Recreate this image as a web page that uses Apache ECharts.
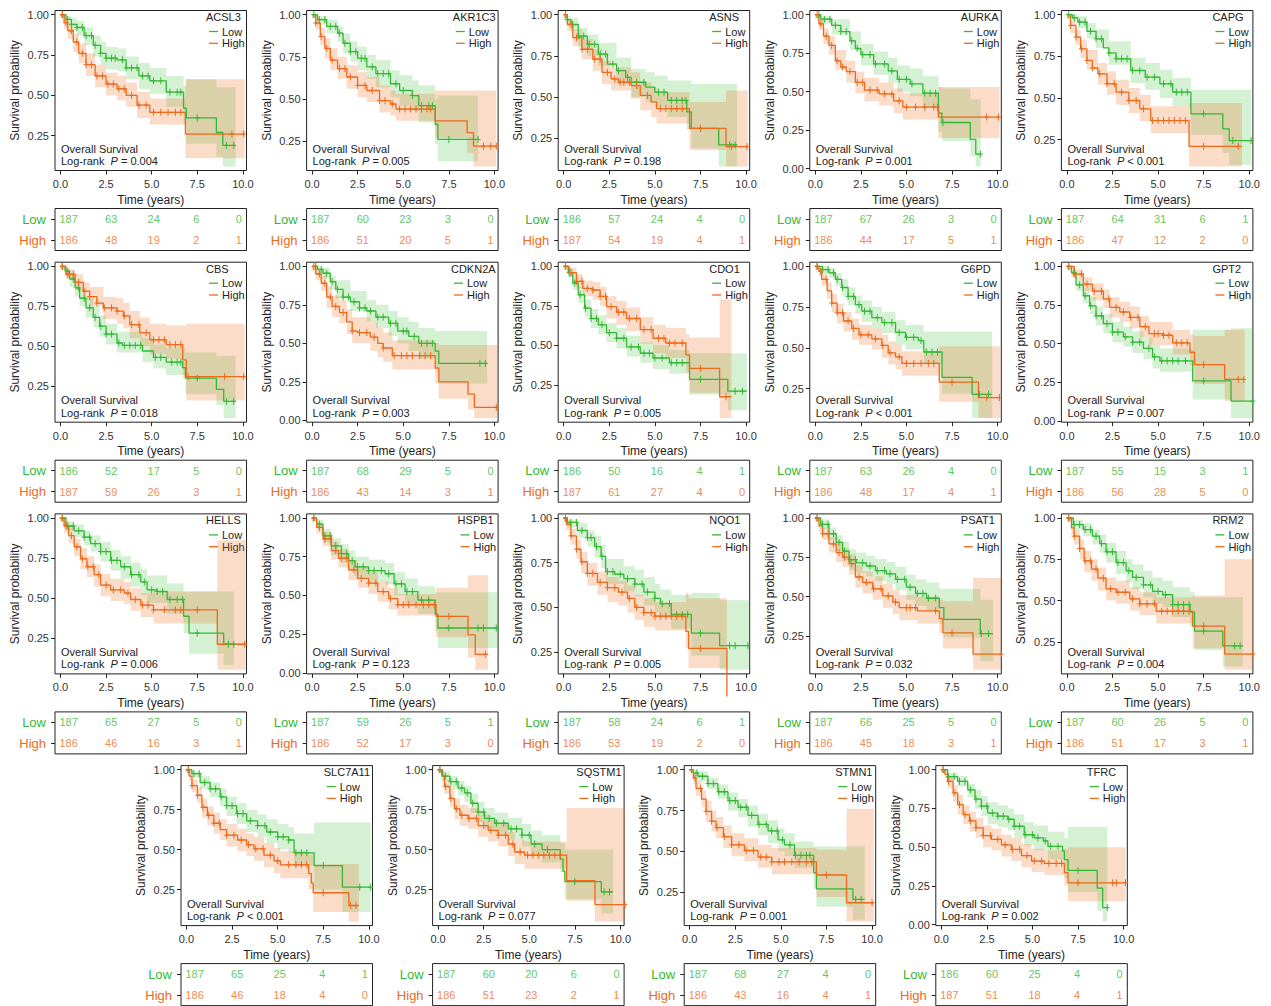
<!DOCTYPE html>
<html>
<head>
<meta charset="utf-8">
<title>Overall survival by gene expression</title>
<script src="https://cdn.jsdelivr.net/npm/echarts@6/dist/echarts.min.js"></script>
<style>
html, body { margin: 0; padding: 0; background: #fff; }
#chart { width: 1271px; height: 1006px; }
</style>
</head>
<body>
<div id="chart"></div>
<script>
// panels, in reading order
const genes = ["ACSL3", "AKR1C3", "ASNS", "AURKA", "CAPG",
               "CBS", "CDKN2A", "CDO1", "G6PD", "GPT2",
               "HELLS", "HSPB1", "NQO1", "PSAT1", "RRM2",
               "SLC7A11", "SQSTM1", "STMN1", "TFRC"];
const pLabels = ["= 0.004", "= 0.005", "= 0.198", "= 0.001", "< 0.001",
                 "= 0.018", "= 0.003", "= 0.005", "< 0.001", "= 0.007",
                 "= 0.006", "= 0.123", "= 0.005", "= 0.032", "= 0.004",
                 "< 0.001", "= 0.077", "= 0.001", "= 0.002"];
const timeTicks = [0, 2.5, 5, 7.5, 10];
const probTicks = [0, 0.25, 0.5, 0.75, 1];

// numbers at risk at timeTicks
const riskLow = [[187,63,24,6,0],[187,60,23,3,0],[186,57,24,4,0],[187,67,26,3,0],[187,64,31,6,1],
                 [186,52,17,5,0],[187,68,29,5,0],[186,50,16,4,1],[187,63,26,4,0],[187,55,15,3,1],
                 [187,65,27,5,0],[187,59,26,5,1],[187,58,24,6,1],[187,66,25,5,0],[187,60,26,5,0],
                 [187,65,25,4,1],[187,60,20,6,0],[187,68,27,4,0],[186,60,25,4,0]];
const riskHigh = [[186,48,19,2,1],[186,51,20,5,1],[187,54,19,4,1],[186,44,17,5,1],[186,47,12,2,0],
                  [187,59,26,3,1],[186,43,14,3,1],[187,61,27,4,0],[186,48,17,4,1],[186,56,28,5,0],
                  [186,46,16,3,1],[186,52,17,3,0],[186,53,19,2,0],[186,45,18,3,1],[186,51,17,3,1],
                  [186,46,18,4,0],[186,51,23,2,1],[186,43,16,4,1],[187,51,18,4,1]];

// Kaplan-Meier steps [time, survival]
const survLow = [
  [[0,1],[0.3,0.97],[0.6,0.94],[0.9,0.92],[1.3,0.87],[1.8,0.81],[2.2,0.76],[2.5,0.73],[3.1,0.72],[3.6,0.67],[4.3,0.62],[4.9,0.59],[5.8,0.52],[6.75,0.42],[6.9,0.36],[8.55,0.27],[8.9,0.19],[9.6,0.19]],
  [[0,1],[0.3,0.97],[0.8,0.93],[1.4,0.89],[1.7,0.83],[2.1,0.78],[2.5,0.74],[3.0,0.69],[3.5,0.65],[4.3,0.59],[4.8,0.55],[5.5,0.52],[5.85,0.46],[6.75,0.35],[6.9,0.26],[9.1,0.26]],
  [[0,1],[0.2,0.97],[0.4,0.94],[0.8,0.87],[1.3,0.82],[1.9,0.76],[2.4,0.7],[2.9,0.66],[3.4,0.62],[3.7,0.59],[4.5,0.56],[5.0,0.53],[5.7,0.48],[6.75,0.41],[7.0,0.31],[8.5,0.21],[9.5,0.21]],
  [[0,1],[0.3,0.97],[0.9,0.93],[1.4,0.89],[1.9,0.83],[2.2,0.78],[2.5,0.74],[3.2,0.68],[4.0,0.635],[4.5,0.58],[5.2,0.55],[5.9,0.49],[6.75,0.36],[6.95,0.3],[8.5,0.19],[8.8,0.095],[9.07,0.095]],
  [[0,1],[0.3,0.98],[0.6,0.955],[1.1,0.9],[1.6,0.855],[2.0,0.8],[2.3,0.77],[2.7,0.735],[3.5,0.665],[4.3,0.625],[5.1,0.585],[5.8,0.535],[6.8,0.405],[8.55,0.315],[8.9,0.245],[10.1,0.245]],
  [[0,1],[0.25,0.97],[0.5,0.92],[0.8,0.865],[1.05,0.8],[1.4,0.74],[1.8,0.68],[2.15,0.625],[2.5,0.575],[3.1,0.52],[3.4,0.505],[4.5,0.47],[5.1,0.43],[5.8,0.4],[6.7,0.365],[6.85,0.3],[8.55,0.23],[8.95,0.155],[9.6,0.155]],
  [[0,1],[0.3,0.98],[0.6,0.955],[1.0,0.9],[1.3,0.85],[1.7,0.8],[2.1,0.77],[2.6,0.73],[3.0,0.71],[3.5,0.67],[4.2,0.63],[4.7,0.58],[5.3,0.545],[5.85,0.5],[6.75,0.45],[6.95,0.37],[9.6,0.37]],
  [[0,1],[0.25,0.96],[0.5,0.895],[0.8,0.82],[1.15,0.735],[1.5,0.67],[1.9,0.63],[2.35,0.58],[2.9,0.545],[3.45,0.49],[4.2,0.45],[4.9,0.42],[5.8,0.39],[6.9,0.285],[9.0,0.21],[10.05,0.21]],
  [[0,1],[0.4,0.98],[0.75,0.96],[1.1,0.92],[1.45,0.87],[1.8,0.815],[2.2,0.765],[2.55,0.725],[3.1,0.685],[3.65,0.655],[4.4,0.595],[4.95,0.565],[5.65,0.545],[5.95,0.475],[6.95,0.32],[8.6,0.215],[9.7,0.215]],
  [[0,1],[0.25,0.96],[0.5,0.88],[0.9,0.81],[1.25,0.745],[1.6,0.68],[2.0,0.63],[2.5,0.575],[3.1,0.545],[3.6,0.51],[4.2,0.47],[4.7,0.415],[5.1,0.39],[6.9,0.26],[9.0,0.13],[10.2,0.13]],
  [[0,1],[0.3,0.95],[0.75,0.92],[1.3,0.88],[1.65,0.84],[2.2,0.79],[2.75,0.735],[3.3,0.695],[3.85,0.645],[4.4,0.6],[4.75,0.55],[5.3,0.54],[5.85,0.49],[6.75,0.385],[7.05,0.28],[8.95,0.21],[9.5,0.21]],
  [[0,1],[0.25,0.96],[0.6,0.885],[1.05,0.82],[1.6,0.77],[2.0,0.725],[2.35,0.685],[3.1,0.66],[4.0,0.64],[4.5,0.575],[5.1,0.525],[5.8,0.47],[6.75,0.38],[6.9,0.29],[10.2,0.29]],
  [[0,1],[0.2,0.975],[0.75,0.93],[1.3,0.89],[1.7,0.84],[2.05,0.785],[2.3,0.7],[2.8,0.685],[3.3,0.66],[3.9,0.63],[4.4,0.585],[5.0,0.55],[5.3,0.52],[5.9,0.46],[7.0,0.355],[8.55,0.285],[10.2,0.285]],
  [[0,1],[0.3,0.96],[0.75,0.9],[1.15,0.845],[1.5,0.79],[1.85,0.735],[2.25,0.715],[2.8,0.695],[3.3,0.665],[3.9,0.645],[4.4,0.61],[5.0,0.56],[5.5,0.52],[6.1,0.49],[6.8,0.43],[7.05,0.355],[9.05,0.265],[9.75,0.265]],
  [[0,1],[0.35,0.96],[0.9,0.93],[1.4,0.89],[1.8,0.845],[2.15,0.795],[2.7,0.73],[3.25,0.68],[3.6,0.64],[4.2,0.595],[4.7,0.555],[5.25,0.535],[5.8,0.475],[6.75,0.43],[7.0,0.315],[8.55,0.225],[9.65,0.225]],
  [[0,1],[0.3,0.975],[0.75,0.92],[1.3,0.88],[1.85,0.83],[2.2,0.775],[2.75,0.725],[3.3,0.68],[3.9,0.65],[4.4,0.61],[5.0,0.58],[5.6,0.56],[5.9,0.48],[7.0,0.4],[8.55,0.265],[10.1,0.265]],
  [[0,1],[0.25,0.96],[0.65,0.925],[1.1,0.885],[1.45,0.855],[1.8,0.79],[2.2,0.735],[2.55,0.695],[3.1,0.665],[3.85,0.63],[4.6,0.59],[5.1,0.535],[5.7,0.5],[6.7,0.44],[6.85,0.365],[6.95,0.3],[8.95,0.235],[9.6,0.235]],
  [[0,1],[0.2,0.98],[0.45,0.96],[1.0,0.915],[1.55,0.865],[2.1,0.81],[2.65,0.77],[3.2,0.72],[3.75,0.665],[4.3,0.625],[4.85,0.57],[5.2,0.54],[5.75,0.475],[6.8,0.37],[6.95,0.27],[8.95,0.205],[9.6,0.205]],
  [[0,1],[0.35,0.955],[0.9,0.925],[1.45,0.87],[1.85,0.81],[2.2,0.765],[2.55,0.72],[3.1,0.7],[3.65,0.68],[4.0,0.635],[4.55,0.58],[5.1,0.56],[5.6,0.54],[5.85,0.505],[6.65,0.475],[6.75,0.42],[6.95,0.35],[8.55,0.235],[8.85,0.11],[9.1,0.11]]
];
const survHigh = [
  [[0,1],[0.2,0.95],[0.4,0.9],[0.7,0.83],[1.0,0.76],[1.4,0.69],[1.9,0.62],[2.5,0.57],[3.1,0.54],[3.6,0.5],[4.2,0.44],[4.9,0.395],[6.85,0.26],[10.1,0.26]],
  [[0,1],[0.2,0.95],[0.45,0.87],[0.7,0.8],[1.0,0.73],[1.4,0.68],[1.9,0.63],[2.5,0.58],[3.0,0.55],[3.7,0.49],[4.3,0.47],[4.6,0.44],[6.75,0.37],[8.5,0.3],[8.85,0.22],[10.1,0.22]],
  [[0,1],[0.2,0.94],[0.5,0.86],[1.0,0.79],[1.6,0.73],[2.1,0.65],[2.6,0.61],[3.0,0.59],[3.7,0.57],[4.2,0.51],[4.8,0.47],[5.1,0.43],[6.9,0.31],[8.9,0.2],[10.1,0.2]],
  [[0,1],[0.2,0.94],[0.45,0.86],[0.75,0.8],[1.1,0.7],[1.4,0.66],[1.7,0.63],[2.2,0.56],[2.7,0.51],[3.5,0.485],[4.3,0.44],[4.8,0.4],[6.75,0.335],[10.1,0.335]],
  [[0,1],[0.2,0.935],[0.5,0.865],[0.75,0.795],[1.1,0.725],[1.4,0.68],[1.7,0.645],[2.2,0.585],[2.7,0.535],[3.4,0.485],[4.0,0.435],[4.6,0.365],[6.7,0.21],[9.6,0.21]],
  [[0,1],[0.3,0.95],[0.8,0.9],[1.25,0.845],[1.6,0.81],[2.0,0.77],[2.35,0.74],[3.1,0.72],[3.45,0.69],[3.8,0.635],[4.35,0.585],[4.9,0.54],[5.8,0.51],[6.7,0.415],[6.9,0.31],[10.1,0.31]],
  [[0,1],[0.2,0.95],[0.5,0.89],[0.8,0.8],[1.1,0.74],[1.5,0.7],[1.9,0.64],[2.2,0.58],[2.5,0.57],[3.2,0.54],[3.6,0.5],[3.9,0.47],[4.4,0.42],[6.75,0.34],[6.95,0.25],[8.55,0.17],[8.9,0.085],[10.2,0.085]],
  [[0,1],[0.3,0.96],[0.7,0.905],[1.05,0.86],[1.6,0.85],[2.0,0.81],[2.35,0.745],[2.9,0.71],[3.45,0.67],[4.2,0.6],[4.9,0.545],[5.6,0.515],[6.7,0.44],[6.9,0.355],[8.55,0.175],[9.2,0.175]],
  [[0,1],[0.2,0.97],[0.35,0.92],[0.65,0.85],[0.9,0.775],[1.2,0.715],[1.55,0.665],[2.0,0.62],[2.4,0.58],[3.1,0.555],[3.65,0.515],[4.0,0.47],[4.4,0.445],[4.75,0.405],[6.8,0.29],[8.95,0.195],[10.15,0.195]],
  [[0,1],[0.4,0.95],[0.9,0.885],[1.4,0.84],[2.0,0.79],[2.35,0.735],[2.9,0.705],[3.45,0.67],[4.0,0.61],[4.5,0.565],[5.25,0.555],[5.8,0.505],[6.75,0.445],[7.0,0.365],[8.65,0.27],[9.75,0.27]],
  [[0,1],[0.2,0.95],[0.45,0.89],[0.75,0.82],[1.1,0.745],[1.45,0.695],[1.85,0.645],[2.2,0.58],[2.75,0.55],[3.5,0.53],[3.85,0.49],[4.4,0.455],[5.1,0.425],[8.6,0.21],[10.15,0.21]],
  [[0,1],[0.25,0.94],[0.6,0.865],[1.05,0.79],[1.45,0.74],[2.0,0.665],[2.5,0.61],[3.1,0.58],[3.6,0.525],[4.2,0.48],[4.7,0.44],[6.8,0.365],[8.55,0.245],[8.95,0.12],[9.65,0.12]],
  [[0,1],[0.15,0.965],[0.4,0.9],[0.7,0.825],[0.95,0.755],[1.3,0.69],[1.85,0.64],[2.4,0.61],[3.0,0.585],[3.5,0.55],[3.9,0.5],[4.4,0.47],[5.0,0.45],[6.7,0.365],[6.85,0.27],[8.95,0]],
  [[0,1],[0.2,0.95],[0.4,0.9],[0.75,0.835],[1.15,0.78],[1.5,0.75],[1.85,0.71],[2.2,0.625],[2.6,0.59],[3.15,0.55],[3.7,0.505],[4.25,0.465],[4.6,0.43],[5.6,0.41],[6.8,0.36],[7.0,0.27],[8.65,0.135],[10.2,0.135]],
  [[0,1],[0.25,0.94],[0.4,0.89],[0.7,0.815],[0.95,0.74],[1.35,0.69],[1.7,0.635],[2.15,0.57],[2.7,0.55],[3.45,0.51],[4.0,0.48],[4.9,0.435],[6.9,0.345],[8.65,0.175],[10.2,0.175]],
  [[0,1],[0.15,0.96],[0.3,0.9],[0.6,0.84],[0.85,0.765],[1.15,0.715],[1.5,0.665],[1.85,0.625],[2.2,0.59],[2.8,0.56],[3.3,0.53],[3.7,0.505],[4.25,0.465],[4.8,0.43],[5.15,0.405],[6.7,0.35],[6.85,0.29],[6.95,0.23],[8.9,0.15],[9.45,0.15]],
  [[0,1],[0.2,0.96],[0.35,0.895],[0.65,0.82],[0.9,0.755],[1.2,0.715],[1.65,0.695],[2.2,0.65],[2.75,0.62],[3.3,0.59],[3.85,0.535],[4.2,0.485],[4.75,0.465],[7.05,0.305],[8.6,0.155],[10.25,0.155]],
  [[0,1],[0.2,0.95],[0.35,0.885],[0.65,0.82],[0.9,0.745],[1.2,0.685],[1.45,0.645],[1.85,0.59],[2.3,0.54],[3.0,0.505],[3.75,0.465],[4.5,0.435],[6.95,0.355],[8.6,0.185],[10.1,0.185]],
  [[0,1],[0.2,0.97],[0.35,0.925],[0.65,0.85],[0.9,0.775],[1.2,0.71],[1.55,0.67],[1.9,0.625],[2.3,0.575],[2.75,0.55],[3.3,0.515],[3.85,0.485],[4.4,0.445],[4.95,0.41],[5.65,0.395],[6.75,0.335],[6.95,0.27],[10.1,0.27]]
];

// confidence bands [time, lower, upper], held until the next time
const bandLow = [
  [[0,0.98,1],[0.3,0.94,0.99],[0.6,0.9,0.98],[0.9,0.87,0.96],[1.3,0.81,0.92],[1.8,0.74,0.87],[2.2,0.69,0.83],[2.5,0.66,0.8],[3.1,0.65,0.79],[3.6,0.6,0.74],[4.3,0.54,0.7],[4.9,0.51,0.67],[5.8,0.43,0.62],[6.75,0.32,0.56],[6.9,0.2,0.6],[8.55,0.12,0.55],[8.9,0.06,0.55],[9.6,0.06,0.55]],
  [[0,0.98,1],[0.3,0.94,0.99],[0.8,0.89,0.97],[1.4,0.84,0.93],[1.7,0.77,0.89],[2.1,0.72,0.84],[2.5,0.67,0.81],[3.0,0.62,0.76],[3.5,0.57,0.73],[4.3,0.51,0.67],[4.8,0.46,0.64],[5.5,0.43,0.61],[5.85,0.36,0.58],[6.75,0.23,0.5],[6.9,0.13,0.52],[9.1,0.13,0.52]],
  [[0,0.98,1],[0.2,0.94,0.99],[0.4,0.9,0.98],[0.8,0.8,0.92],[1.3,0.75,0.88],[1.9,0.69,0.83],[2.9,0.58,0.74],[3.7,0.5,0.67],[4.5,0.47,0.65],[5.0,0.44,0.63],[5.7,0.38,0.6],[6.75,0.3,0.6],[7.0,0.19,0.58],[8.5,0.08,0.58],[9.5,0.08,0.58]],
  [[0,0.98,1],[0.3,0.94,0.99],[0.9,0.87,0.97],[1.9,0.77,0.89],[2.5,0.67,0.81],[3.2,0.61,0.76],[4.0,0.56,0.72],[4.5,0.5,0.67],[5.2,0.47,0.65],[5.9,0.4,0.6],[6.75,0.24,0.53],[6.95,0.18,0.52],[8.5,0.08,0.45],[8.8,0.015,0.45],[9.07,0.015,0.45]],
  [[0,0.98,1],[0.6,0.92,0.99],[1.1,0.86,0.95],[1.6,0.8,0.91],[2.3,0.7,0.84],[3.5,0.59,0.74],[4.3,0.55,0.71],[5.1,0.5,0.67],[5.8,0.45,0.62],[6.8,0.28,0.55],[8.55,0.17,0.55],[8.9,0.1,0.55],[10.1,0.1,0.55]],
  [[0,0.98,1],[0.25,0.94,0.99],[0.5,0.87,0.96],[0.8,0.81,0.91],[1.05,0.75,0.86],[1.4,0.68,0.8],[1.8,0.62,0.75],[2.15,0.56,0.69],[2.5,0.51,0.64],[3.1,0.46,0.59],[4.5,0.4,0.55],[5.1,0.36,0.51],[5.8,0.32,0.49],[6.85,0.2,0.46],[8.55,0.13,0.44],[8.95,0.05,0.44],[9.6,0.05,0.44]],
  [[0,0.98,1],[0.3,0.95,0.99],[0.6,0.92,0.99],[1.0,0.85,0.94],[1.3,0.79,0.91],[2.1,0.71,0.84],[3.0,0.64,0.78],[3.5,0.6,0.75],[4.2,0.55,0.71],[4.7,0.5,0.67],[5.3,0.45,0.64],[5.85,0.4,0.6],[6.75,0.35,0.58],[6.95,0.24,0.58],[9.6,0.24,0.58]],
  [[0,0.98,1],[0.25,0.93,0.99],[0.5,0.85,0.93],[0.8,0.77,0.87],[1.15,0.68,0.79],[1.5,0.61,0.73],[1.9,0.57,0.69],[2.35,0.52,0.64],[2.9,0.48,0.61],[3.45,0.43,0.56],[4.2,0.39,0.52],[4.9,0.35,0.5],[5.8,0.32,0.47],[6.9,0.19,0.45],[9.0,0.09,0.45],[10.05,0.09,0.45]],
  [[0,0.98,1],[0.4,0.96,1],[0.75,0.93,0.99],[1.1,0.88,0.96],[1.45,0.82,0.92],[1.8,0.76,0.87],[2.2,0.71,0.82],[2.55,0.66,0.79],[3.1,0.62,0.75],[3.65,0.59,0.72],[4.4,0.52,0.67],[4.95,0.49,0.64],[5.95,0.4,0.6],[6.95,0.22,0.6],[8.6,0.07,0.6],[9.7,0.07,0.6]],
  [[0,0.98,1],[0.25,0.93,0.99],[0.5,0.84,0.92],[0.9,0.76,0.86],[1.25,0.69,0.8],[1.6,0.62,0.74],[2.0,0.57,0.69],[2.5,0.51,0.64],[3.1,0.48,0.61],[3.6,0.44,0.58],[4.2,0.4,0.54],[4.7,0.34,0.49],[5.1,0.32,0.47],[6.9,0.14,0.59],[9.0,0.02,0.6],[10.2,0.02,0.6]],
  [[0,0.98,1],[0.3,0.92,0.98],[0.75,0.88,0.96],[1.3,0.83,0.92],[1.65,0.79,0.89],[2.2,0.73,0.85],[2.75,0.67,0.8],[3.3,0.62,0.76],[3.85,0.57,0.72],[4.4,0.52,0.68],[4.75,0.47,0.64],[5.85,0.4,0.59],[6.75,0.28,0.54],[7.05,0.15,0.54],[8.95,0.08,0.54],[9.5,0.08,0.54]],
  [[0,0.98,1],[0.25,0.93,0.99],[0.6,0.84,0.93],[1.05,0.76,0.87],[1.6,0.71,0.83],[2.0,0.66,0.79],[2.35,0.62,0.75],[3.1,0.59,0.73],[4.0,0.57,0.71],[4.5,0.5,0.65],[5.1,0.44,0.61],[5.8,0.38,0.56],[6.75,0.27,0.52],[6.9,0.16,0.52],[10.2,0.16,0.52]],
  [[0,0.98,1],[0.2,0.95,0.99],[0.75,0.89,0.97],[1.3,0.84,0.93],[1.7,0.78,0.9],[2.05,0.72,0.85],[2.3,0.63,0.77],[3.3,0.59,0.73],[3.9,0.56,0.71],[4.4,0.51,0.67],[5.0,0.47,0.63],[5.3,0.44,0.6],[5.9,0.38,0.57],[7.0,0.23,0.58],[8.55,0.15,0.54],[10.2,0.15,0.54]],
  [[0,0.98,1],[0.3,0.93,0.99],[0.75,0.86,0.94],[1.15,0.79,0.89],[1.5,0.73,0.85],[1.85,0.67,0.8],[2.25,0.65,0.78],[2.8,0.63,0.76],[3.3,0.6,0.74],[3.9,0.58,0.72],[4.4,0.54,0.69],[5.0,0.48,0.64],[5.5,0.44,0.61],[6.1,0.41,0.59],[6.8,0.33,0.55],[7.05,0.24,0.55],[9.05,0.09,0.48],[9.75,0.09,0.48]],
  [[0,0.98,1],[0.35,0.93,0.99],[0.9,0.89,0.97],[1.4,0.84,0.93],[1.8,0.79,0.9],[2.15,0.73,0.85],[2.7,0.66,0.8],[3.25,0.61,0.75],[3.6,0.57,0.72],[4.2,0.52,0.68],[4.7,0.48,0.64],[5.25,0.46,0.62],[5.8,0.4,0.58],[6.75,0.34,0.55],[7.0,0.2,0.52],[8.55,0.1,0.52],[9.65,0.1,0.52]],
  [[0,0.98,1],[0.3,0.95,0.99],[0.75,0.88,0.96],[1.3,0.83,0.92],[1.85,0.77,0.88],[2.2,0.71,0.83],[2.75,0.66,0.79],[3.3,0.61,0.75],[3.9,0.58,0.72],[4.4,0.54,0.69],[5.0,0.5,0.66],[5.6,0.48,0.64],[5.9,0.4,0.6],[7.0,0.25,0.67],[8.55,0.11,0.67],[10.1,0.11,0.67]],
  [[0,0.98,1],[0.25,0.93,0.99],[0.65,0.88,0.96],[1.1,0.84,0.93],[1.45,0.8,0.9],[1.8,0.73,0.85],[2.2,0.67,0.8],[2.55,0.63,0.76],[3.1,0.6,0.73],[3.85,0.56,0.7],[4.6,0.52,0.66],[5.1,0.46,0.62],[5.7,0.42,0.59],[6.7,0.36,0.54],[6.95,0.19,0.5],[8.95,0.1,0.5],[9.6,0.1,0.5]],
  [[0,0.99,1],[0.2,0.96,1],[0.45,0.93,0.99],[1.0,0.88,0.95],[1.55,0.82,0.91],[2.1,0.75,0.86],[2.65,0.71,0.82],[3.2,0.65,0.78],[3.75,0.6,0.73],[4.3,0.55,0.69],[4.85,0.5,0.64],[5.2,0.47,0.61],[5.75,0.4,0.56],[6.8,0.27,0.53],[6.95,0.16,0.53],[8.95,0.08,0.53],[9.6,0.08,0.53]],
  [[0,0.98,1],[0.35,0.93,0.98],[0.9,0.89,0.96],[1.45,0.82,0.91],[1.85,0.75,0.87],[2.2,0.7,0.83],[2.55,0.65,0.79],[3.1,0.63,0.77],[3.65,0.61,0.75],[4.0,0.56,0.71],[4.55,0.51,0.66],[5.1,0.48,0.64],[5.85,0.42,0.6],[6.75,0.3,0.56],[6.95,0.21,0.63],[8.55,0.09,0.63],[8.85,0.02,0.63],[9.1,0.02,0.63]]
];
const bandHigh = [
  [[0,0.98,1],[0.2,0.91,0.98],[0.4,0.85,0.94],[0.7,0.77,0.88],[1.0,0.7,0.82],[1.4,0.62,0.76],[1.9,0.55,0.69],[2.5,0.5,0.64],[3.1,0.47,0.62],[3.6,0.43,0.58],[4.2,0.36,0.52],[4.9,0.32,0.48],[6.85,0.11,0.6],[10.1,0.11,0.6]],
  [[0,0.98,1],[0.2,0.91,0.98],[0.45,0.82,0.92],[0.7,0.74,0.86],[1.0,0.67,0.8],[1.4,0.62,0.75],[1.9,0.56,0.7],[2.5,0.51,0.66],[3.0,0.48,0.63],[3.7,0.42,0.58],[4.3,0.4,0.55],[4.6,0.37,0.53],[6.75,0.27,0.55],[8.5,0.18,0.55],[8.85,0.1,0.55],[10.1,0.1,0.55]],
  [[0,0.97,1],[0.2,0.9,0.97],[0.5,0.81,0.91],[1.0,0.73,0.85],[1.6,0.66,0.79],[2.1,0.58,0.72],[2.6,0.54,0.68],[3.7,0.49,0.65],[4.2,0.42,0.59],[4.8,0.38,0.56],[5.1,0.34,0.53],[6.9,0.18,0.47],[8.9,0.08,0.54],[10.1,0.08,0.54]],
  [[0,0.97,1],[0.2,0.9,0.97],[0.45,0.81,0.91],[0.75,0.74,0.86],[1.1,0.64,0.77],[1.7,0.56,0.7],[2.2,0.49,0.63],[2.7,0.44,0.59],[3.5,0.41,0.56],[4.3,0.36,0.52],[4.8,0.32,0.49],[6.75,0.2,0.53],[10.1,0.2,0.53]],
  [[0,0.97,1],[0.2,0.89,0.97],[0.5,0.82,0.91],[0.75,0.74,0.85],[1.1,0.67,0.79],[1.7,0.58,0.71],[2.2,0.52,0.66],[2.7,0.46,0.61],[3.4,0.41,0.56],[4.0,0.36,0.52],[4.6,0.29,0.45],[6.7,0.09,0.47],[9.6,0.09,0.47]],
  [[0,0.98,1],[0.3,0.92,0.98],[0.8,0.85,0.95],[1.25,0.79,0.9],[1.6,0.75,0.87],[2.35,0.67,0.81],[3.1,0.64,0.8],[3.45,0.61,0.77],[3.8,0.55,0.72],[4.35,0.5,0.68],[4.9,0.45,0.64],[5.8,0.42,0.63],[6.7,0.3,0.63],[6.9,0.16,0.64],[10.1,0.16,0.64]],
  [[0,0.97,1],[0.2,0.91,0.98],[0.5,0.84,0.94],[0.8,0.73,0.87],[1.1,0.67,0.81],[1.5,0.63,0.78],[1.9,0.56,0.72],[2.2,0.5,0.67],[3.2,0.45,0.64],[3.6,0.41,0.6],[3.9,0.38,0.57],[4.4,0.33,0.52],[6.75,0.24,0.5],[6.95,0.14,0.49],[8.55,0.07,0.49],[8.9,0.015,0.49],[10.2,0.015,0.49]],
  [[0,0.98,1],[0.3,0.93,0.99],[0.7,0.86,0.95],[1.05,0.81,0.91],[1.6,0.79,0.9],[2.0,0.75,0.87],[2.35,0.67,0.81],[2.9,0.63,0.78],[3.45,0.59,0.74],[4.2,0.51,0.68],[4.9,0.45,0.63],[5.6,0.42,0.61],[6.7,0.33,0.57],[6.9,0.2,0.55],[8.55,0.04,0.79],[9.2,0.04,0.79]],
  [[0,0.98,1],[0.2,0.94,0.99],[0.35,0.88,0.96],[0.65,0.8,0.9],[0.9,0.72,0.83],[1.2,0.65,0.77],[1.55,0.6,0.72],[2.0,0.55,0.68],[2.4,0.52,0.64],[3.1,0.49,0.62],[3.65,0.44,0.58],[4.0,0.4,0.54],[4.4,0.37,0.52],[4.75,0.33,0.48],[6.8,0.17,0.51],[8.95,0.07,0.51],[10.15,0.07,0.51]],
  [[0,0.98,1],[0.4,0.92,0.98],[0.9,0.84,0.93],[1.4,0.78,0.89],[2.0,0.73,0.85],[2.35,0.67,0.8],[2.9,0.64,0.77],[3.45,0.6,0.74],[4.0,0.54,0.68],[4.5,0.49,0.64],[5.8,0.43,0.59],[6.75,0.36,0.56],[7.0,0.24,0.55],[8.65,0.13,0.59],[9.75,0.13,0.59]],
  [[0,0.98,1],[0.2,0.91,0.98],[0.45,0.84,0.94],[0.75,0.76,0.87],[1.1,0.68,0.81],[1.45,0.63,0.76],[1.85,0.57,0.71],[2.2,0.51,0.65],[2.75,0.48,0.62],[3.5,0.46,0.6],[3.85,0.42,0.56],[4.4,0.38,0.53],[5.1,0.34,0.54],[8.6,0.05,0.86],[10.15,0.05,0.86]],
  [[0,0.98,1],[0.25,0.9,0.97],[0.6,0.82,0.91],[1.05,0.73,0.85],[1.45,0.68,0.8],[2.0,0.6,0.73],[2.5,0.55,0.68],[3.1,0.51,0.65],[3.6,0.46,0.59],[4.2,0.41,0.55],[4.7,0.37,0.51],[6.8,0.23,0.55],[8.55,0.1,0.63],[8.95,0.02,0.63],[9.65,0.02,0.63]],
  [[0,0.98,1],[0.15,0.93,0.99],[0.4,0.85,0.94],[0.7,0.77,0.88],[0.95,0.69,0.81],[1.3,0.62,0.75],[1.85,0.57,0.7],[2.4,0.53,0.67],[3.0,0.51,0.65],[3.5,0.47,0.62],[3.9,0.43,0.57],[4.4,0.39,0.55],[5.0,0.37,0.53],[6.7,0.27,0.58],[6.85,0.16,0.55],[8.95,0.16,0.55]],
  [[0,0.98,1],[0.2,0.91,0.98],[0.4,0.86,0.94],[0.75,0.78,0.88],[1.15,0.72,0.84],[1.5,0.69,0.81],[1.85,0.64,0.77],[2.2,0.56,0.7],[2.6,0.52,0.66],[3.15,0.48,0.63],[3.7,0.43,0.58],[4.25,0.39,0.54],[4.6,0.35,0.51],[5.6,0.33,0.5],[6.8,0.27,0.48],[7.0,0.17,0.47],[8.65,0.035,0.62],[10.2,0.035,0.62]],
  [[0,0.98,1],[0.25,0.9,0.97],[0.4,0.84,0.93],[0.7,0.75,0.87],[0.95,0.67,0.8],[1.35,0.62,0.75],[1.7,0.56,0.7],[2.15,0.5,0.64],[2.7,0.48,0.62],[3.45,0.44,0.58],[4.0,0.41,0.55],[4.9,0.36,0.52],[6.9,0.21,0.53],[8.65,0.08,0.75],[10.2,0.08,0.75]],
  [[0,0.98,1],[0.15,0.93,0.99],[0.3,0.86,0.94],[0.6,0.79,0.89],[0.85,0.7,0.82],[1.15,0.65,0.77],[1.5,0.6,0.73],[1.85,0.56,0.69],[2.2,0.52,0.66],[2.8,0.49,0.63],[3.3,0.46,0.6],[3.7,0.43,0.58],[4.25,0.39,0.54],[4.8,0.35,0.51],[5.15,0.32,0.49],[6.7,0.25,0.47],[6.95,0.11,0.41],[8.9,0.05,0.41],[9.45,0.05,0.41]],
  [[0,0.98,1],[0.2,0.93,0.99],[0.35,0.85,0.94],[0.65,0.77,0.88],[0.9,0.69,0.82],[1.2,0.65,0.78],[1.65,0.63,0.76],[2.2,0.58,0.72],[2.75,0.55,0.69],[3.3,0.52,0.66],[3.85,0.46,0.61],[4.2,0.41,0.56],[4.75,0.38,0.55],[7.05,0.18,0.76],[8.6,0.05,0.76],[10.25,0.05,0.76]],
  [[0,0.98,1],[0.2,0.91,0.98],[0.35,0.84,0.93],[0.65,0.77,0.87],[0.9,0.68,0.81],[1.2,0.62,0.75],[1.45,0.58,0.71],[1.85,0.52,0.66],[2.3,0.47,0.61],[3.0,0.44,0.58],[3.75,0.4,0.54],[4.5,0.36,0.52],[6.95,0.22,0.51],[8.6,0.07,0.76],[10.1,0.07,0.76]],
  [[0,0.98,1],[0.2,0.94,0.99],[0.35,0.88,0.96],[0.65,0.79,0.9],[0.9,0.71,0.84],[1.2,0.65,0.77],[1.55,0.6,0.73],[1.9,0.56,0.69],[2.3,0.5,0.64],[2.75,0.48,0.62],[3.3,0.44,0.58],[3.85,0.41,0.56],[4.4,0.37,0.52],[4.95,0.34,0.49],[5.65,0.32,0.48],[6.75,0.25,0.49],[6.95,0.15,0.5],[10.1,0.15,0.5]]
];

// censoring times
const censorLow = [
  [0.1,0.4,0.6,0.9,1.2,1.4,1.7,1.9,2.2,2.5,2.8,3.0,3.4,3.6,3.9,4.2,4.5,4.8,5.1,5.5,6.0,6.4,6.6,7.5,9.1,9.5],
  [0.1,0.4,0.7,1.0,1.3,1.5,1.8,2.1,2.4,2.7,2.9,3.3,3.6,3.9,4.2,4.6,5.0,5.5,6.0,6.4,6.6,7.5,9.1],
  [0.2,0.5,0.8,1.1,1.4,1.7,2.0,2.3,2.7,3.0,3.5,4.0,4.4,5.2,5.5,5.9,6.2,6.5,6.7,7.5,9.1,9.4],
  [0.2,0.5,0.8,1.1,1.4,1.7,2.0,2.3,2.6,3.0,3.3,3.8,4.2,4.6,5.0,5.3,6.0,6.3,6.6,7.0,9.05],
  [0.1,0.4,0.7,1.0,1.3,1.6,1.9,2.3,2.7,3.0,3.3,3.6,4.0,4.4,4.8,5.3,5.7,6.0,6.3,6.6,7.5,9.1,10.1],
  [0.1,0.4,0.7,1.0,1.3,1.6,1.9,2.2,2.5,2.8,3.2,3.5,3.8,4.1,4.4,5.2,5.5,6.1,6.4,6.6,7.5,9.1,9.5],
  [0.2,0.5,0.8,1.1,1.4,1.7,2.0,2.3,2.6,2.9,3.2,3.6,3.9,4.3,4.6,5.0,5.2,5.6,6.0,6.3,6.6,9.2,9.5],
  [0.1,0.3,0.6,0.9,1.2,1.5,1.8,2.1,2.5,2.9,3.3,3.7,4.1,4.4,4.7,5.0,5.4,5.9,6.2,6.5,7.5,9.4,9.8],
  [0.1,0.4,0.7,1.0,1.2,1.5,1.8,2.1,2.4,2.7,3.0,3.4,3.8,4.2,4.6,5.0,5.4,5.8,6.1,6.4,6.7,9.0,9.5],
  [0.1,0.4,0.7,1.0,1.3,1.6,1.9,2.2,2.5,2.8,3.2,3.6,4.0,4.5,4.8,5.2,5.5,5.8,6.1,6.5,7.5,10.2],
  [0.1,0.4,0.7,1.0,1.3,1.6,1.9,2.2,2.5,2.8,3.1,3.5,3.9,4.3,4.6,5.0,5.3,5.6,6.0,6.4,6.7,7.5,9.2,9.5],
  [0.1,0.4,0.7,1.0,1.3,1.6,1.9,2.2,2.5,2.8,3.1,3.4,3.8,4.2,4.6,4.9,5.2,5.5,6.0,6.4,7.5,9.1,9.4,10.1],
  [0.1,0.4,0.7,1.0,1.3,1.5,1.8,2.1,2.4,2.7,3.1,3.5,3.9,4.3,4.6,5.0,5.4,5.8,6.2,6.5,6.8,7.5,9.1,9.4,10.1],
  [0.1,0.4,0.7,1.0,1.3,1.6,1.9,2.2,2.6,3.0,3.4,3.8,4.1,4.5,4.9,5.2,5.6,5.9,6.2,6.6,9.1,9.5],
  [0.1,0.4,0.7,1.0,1.3,1.6,1.9,2.2,2.5,2.8,3.1,3.4,3.8,4.2,4.6,5.0,5.4,5.8,6.1,6.4,6.7,7.5,9.2,9.5],
  [0.1,0.4,0.7,1.0,1.3,1.6,1.9,2.2,2.5,2.8,3.1,3.5,3.9,4.3,4.6,5.0,5.3,5.6,6.0,6.3,6.6,7.5,9.5,10.1],
  [0.1,0.4,0.7,1.0,1.3,1.6,1.9,2.2,2.5,2.8,3.2,3.6,4.0,4.3,4.6,5.0,5.3,6.0,7.5,9.1,9.4],
  [0.1,0.4,0.7,1.0,1.3,1.6,1.9,2.2,2.5,2.8,3.1,3.4,3.8,4.2,4.5,4.8,5.1,5.5,5.8,6.1,6.4,6.6,9.1,9.4],
  [0.1,0.4,0.7,1.0,1.3,1.6,1.9,2.2,2.5,2.8,3.1,3.4,3.7,4.0,4.3,4.6,5.0,5.3,5.7,6.0,6.4,7.5,9.1]
];
const censorHigh = [
  [0.1,0.3,0.6,0.9,1.2,1.4,1.7,2.0,2.3,2.6,2.9,3.2,3.5,3.9,4.3,4.7,5.1,5.5,5.9,6.3,6.6,9.4,10.05],
  [0.2,0.5,0.8,1.1,1.5,1.8,2.1,2.5,2.9,3.3,3.7,4.0,4.4,4.8,5.1,5.4,5.7,6.0,6.3,6.5,9.4,9.8,10.1],
  [0.1,0.4,0.7,1.0,1.3,1.7,2.0,2.4,2.8,3.1,3.3,3.6,4.0,4.6,5.3,5.6,5.9,6.2,6.5,7.5,9.2,10.05],
  [0.1,0.3,0.6,0.9,1.2,1.5,1.9,2.3,2.6,3.0,3.4,3.8,4.2,4.6,5.0,5.5,6.0,6.5,6.7,9.4,10.05],
  [0.2,0.5,0.8,1.1,1.4,1.8,2.2,2.6,3.0,3.4,3.8,4.2,4.7,5.0,5.3,5.6,5.9,6.2,6.5,7.5,9.4],
  [0.1,0.4,0.7,1.0,1.3,1.6,2.0,2.4,2.8,3.1,3.5,3.9,4.3,4.7,5.1,5.4,5.7,6.0,6.3,6.6,7.0,9.0,10.05],
  [0.1,0.4,0.7,1.0,1.3,1.7,2.2,2.6,3.0,3.4,3.9,4.5,4.9,5.2,5.5,5.9,6.2,6.5,10.1],
  [0.1,0.4,0.7,1.0,1.3,1.6,2.0,2.3,2.6,3.0,3.3,3.6,4.0,4.4,4.8,5.2,5.5,5.8,6.1,6.5,7.5,8.9],
  [0.1,0.3,0.6,0.9,1.2,1.5,1.8,2.1,2.5,2.9,3.3,3.7,4.1,4.6,5.0,5.4,5.8,6.2,6.5,7.5,9.4,10.1],
  [0.1,0.4,0.8,1.1,1.5,1.9,2.3,2.7,3.1,3.5,3.9,4.3,4.8,5.0,5.3,5.6,6.0,6.3,6.6,7.5,9.4,9.7],
  [0.1,0.3,0.6,0.9,1.2,1.5,1.8,2.1,2.5,2.9,3.3,3.7,4.1,4.5,4.8,5.1,5.7,6.3,6.6,7.5,10.1],
  [0.1,0.4,0.7,1.0,1.3,1.6,1.9,2.3,2.7,3.1,3.5,3.9,4.3,4.7,5.0,5.3,5.7,6.1,6.4,6.7,7.5,9.5],
  [0.1,0.4,0.7,1.0,1.3,1.6,2.0,2.4,2.8,3.2,3.6,4.0,4.4,4.8,5.0,5.3,5.6,5.9,6.2,6.5,7.5],
  [0.1,0.4,0.7,1.0,1.3,1.6,2.0,2.4,2.8,3.2,3.6,4.0,4.4,5.0,5.2,5.5,6.6,7.5,10.2],
  [0.1,0.4,0.7,1.0,1.3,1.6,2.0,2.4,2.8,3.2,3.6,4.0,4.4,4.8,5.2,5.5,5.8,6.1,6.4,6.7,7.5,10.2],
  [0.1,0.3,0.6,0.9,1.2,1.5,1.8,2.2,2.6,3.0,3.4,3.8,4.2,4.6,5.0,5.6,6.0,6.3,6.6,7.5,9.0,9.3],
  [0.1,0.4,0.7,1.0,1.3,1.7,2.1,2.5,2.9,3.3,3.7,4.1,4.5,4.9,5.2,5.5,5.8,6.1,6.4,6.7,10.25],
  [0.1,0.3,0.6,0.9,1.2,1.5,1.9,2.3,2.7,3.1,3.5,3.9,4.2,4.5,4.9,5.2,5.6,6.0,6.4,6.7,7.5,10.0],
  [0.1,0.4,0.7,1.0,1.3,1.6,1.9,2.3,2.7,3.1,3.5,3.9,4.3,4.7,5.1,5.5,5.9,6.3,6.6,7.5,9.4,9.6,10.1]
];

const GREEN = "#35B835";
const ORANGE = "#EC6A1C";
const GREEN_FILL = "rgba(60,190,60,0.22)";
const ORANGE_FILL = "rgba(240,110,30,0.24)";
const INK = "#222";
const FONT = "'Liberation Sans', Arial, Helvetica, sans-serif";

function panelBox(i) {
  const row = Math.floor(i / 5), col = i % 5;
  const left = (row < 3 ? 55 : 181) + 251.6 * col;
  const top = 10.5 + 251.7 * row;
  return { left: left, top: top, width: 191.5, height: 160, tableTop: top + 198, tableH: 42 };
}

function survAt(curve, t) {
  let s = curve[0][1];
  for (const p of curve) {
    if (p[0] <= t) s = p[1]; else break;
  }
  return s;
}

const measureCtx = document.createElement("canvas").getContext("2d");
function textWidth(s, size) {
  measureCtx.font = size + "px " + FONT;
  return measureCtx.measureText(s).width;
}

function bandSeries(band, fill, idx) {
  return {
    type: "custom", xAxisIndex: idx, yAxisIndex: idx, silent: true, z: 1,
    data: [[band[0][0], band[0][2]]],
    renderItem: function (params, api) {
      const upper = [], lower = [];
      for (let k = 0; k < band.length; k++) {
        const t0 = band[k][0];
        const t1 = k + 1 < band.length ? band[k + 1][0] : band[k][0];
        upper.push(api.coord([t0, band[k][2]]), api.coord([t1, band[k][2]]));
        lower.push(api.coord([t0, band[k][1]]), api.coord([t1, band[k][1]]));
      }
      return {
        type: "polygon",
        shape: { points: upper.concat(lower.reverse()) },
        style: { fill: fill, stroke: null }
      };
    }
  };
}

// "+" censor ticks sitting on the curve
function censorSeries(curve, times, color, idx) {
  return {
    type: "custom", xAxisIndex: idx, yAxisIndex: idx, silent: true, z: 4,
    data: times.map(function (t) { return [t, survAt(curve, t)]; }),
    renderItem: function (params, api) {
      const p = api.coord([api.value(0), api.value(1)]);
      return {
        type: "group",
        children: [
          { type: "line", shape: { x1: p[0], y1: p[1] - 3.5, x2: p[0], y2: p[1] + 3.5 }, style: { stroke: color, lineWidth: 1 } },
          { type: "line", shape: { x1: p[0] - 2.5, y1: p[1], x2: p[0] + 2.5, y2: p[1] }, style: { stroke: color, lineWidth: 1 } }
        ]
      };
    }
  };
}

const grids = [], xAxes = [], yAxes = [], series = [], graphic = [];

genes.forEach(function (gene, i) {
  const b = panelBox(i);
  const pi = 2 * i, ti = 2 * i + 1;
  const lo = Math.min.apply(null, bandLow[i].concat(bandHigh[i]).map(function (d) { return d[1]; }));
  const yMin = lo - 0.027 * (1 - lo);
  const yMax = 1 + 0.027 * (1 - lo);
  const yTicks = probTicks.filter(function (v) { return v >= yMin && v <= yMax; });

  grids.push({ left: b.left, top: b.top, width: b.width, height: b.height, show: true,
               borderColor: INK, borderWidth: 1, backgroundColor: "transparent", outerBoundsMode: "none" });
  grids.push({ left: b.left, top: b.tableTop, width: b.width, height: b.tableH, show: true,
               borderColor: INK, borderWidth: 1, backgroundColor: "transparent", outerBoundsMode: "none" });

  xAxes.push({
    type: "value", gridIndex: pi, min: -0.3, max: 10.2, position: "bottom",
    name: "Time (years)", nameLocation: "middle", nameGap: 23,
    nameTextStyle: { fontSize: 12, color: INK, fontFamily: FONT },
    axisLine: { show: false, onZero: false }, splitLine: { show: false },
    axisTick: { show: true, length: 4, customValues: timeTicks, lineStyle: { color: INK } },
    axisLabel: { customValues: timeTicks, formatter: function (v) { return v.toFixed(1); },
                 fontSize: 11, color: "#333", fontFamily: FONT, margin: 8 }
  });
  yAxes.push({
    type: "value", gridIndex: pi, min: yMin, max: yMax, position: "left",
    name: "Survival probability", nameLocation: "middle", nameGap: 34,
    nameTextStyle: { fontSize: 12, color: INK, fontFamily: FONT },
    axisLine: { show: false, onZero: false }, splitLine: { show: false },
    axisTick: { show: true, length: 4, customValues: yTicks, lineStyle: { color: INK } },
    axisLabel: { customValues: yTicks, formatter: function (v) { return v.toFixed(2); },
                 fontSize: 11, color: "#333", fontFamily: FONT, margin: 6 }
  });
  xAxes.push({
    type: "value", gridIndex: ti, min: -0.8, max: 10.45, position: "bottom",
    axisLine: { show: false, onZero: false }, axisTick: { show: false }, axisLabel: { show: false }, splitLine: { show: false }
  });
  yAxes.push({
    type: "category", gridIndex: ti, data: ["High", "Low"], position: "left",
    axisLine: { show: false, onZero: false }, splitLine: { show: false },
    axisTick: { show: true, length: 4, alignWithLabel: true, lineStyle: { color: INK } },
    axisLabel: { fontSize: 13, fontFamily: FONT, margin: 9,
                 color: function (v) { return v === "Low" ? GREEN : ORANGE; } }
  });

  series.push(bandSeries(bandLow[i], GREEN_FILL, pi));
  series.push(bandSeries(bandHigh[i], ORANGE_FILL, pi));

  [[survLow[i], censorLow[i], GREEN, "Low"], [survHigh[i], censorHigh[i], ORANGE, "High"]].forEach(function (g) {
    series.push({
      type: "line", name: g[3], xAxisIndex: pi, yAxisIndex: pi, data: g[0], step: "end",
      symbol: "none", clip: false, silent: true, z: 3,
      lineStyle: { color: g[2], width: 1.3 }
    });
    series.push(censorSeries(g[0], g[1], g[2], pi));
  });

  [[riskLow[i], "Low", GREEN], [riskHigh[i], "High", ORANGE]].forEach(function (r) {
    series.push({
      type: "scatter", xAxisIndex: ti, yAxisIndex: ti, silent: true, z: 4,
      data: r[0].map(function (n, k) { return [timeTicks[k], r[1], n]; }),
      symbolSize: 1, itemStyle: { color: "rgba(0,0,0,0)" },
      label: { show: true, position: "inside", formatter: function (p) { return String(p.value[2]); },
               color: r[2], fontSize: 11, fontFamily: FONT }
    });
  });

  // annotation and legend inside the plot panel
  const L = b.left, R = b.left + b.width, T = b.top, B = b.top + b.height;
  graphic.push({ type: "text", x: L + 6, y: B - 22, silent: true,
                 style: { text: "Overall Survival", fontSize: 11, fontFamily: FONT, fill: INK, verticalAlign: "middle" } });
  graphic.push({ type: "text", x: L + 6, y: B - 9.5, silent: true,
                 style: { text: "Log-rank  {i|P} " + pLabels[i], fontSize: 11, fontFamily: FONT, fill: INK, verticalAlign: "middle",
                          rich: { i: { fontStyle: "italic", fontSize: 11, fontFamily: FONT, fill: INK } } } });
  const W = Math.max(textWidth(gene, 11), 38);
  const x0 = R - 2.5 - W;
  graphic.push({ type: "text", x: x0, y: T + 6.5, silent: true,
                 style: { text: gene, fontSize: 11, fontFamily: FONT, fill: INK, verticalAlign: "middle" } });
  [["Low", GREEN, T + 21], ["High", ORANGE, T + 32.8]].forEach(function (k) {
    graphic.push({ type: "line", silent: true, shape: { x1: x0 + 3, y1: k[2], x2: x0 + 12, y2: k[2] },
                   style: { stroke: k[1], lineWidth: 1.3 } });
    graphic.push({ type: "text", x: x0 + 16, y: k[2], silent: true,
                   style: { text: k[0], fontSize: 11, fontFamily: FONT, fill: INK, verticalAlign: "middle" } });
  });
});

const chart = echarts.init(document.getElementById("chart"), null, { renderer: "svg" });
chart.setOption({
  animation: false,
  backgroundColor: "#fff",
  textStyle: { fontFamily: FONT },
  grid: grids,
  xAxis: xAxes,
  yAxis: yAxes,
  series: series,
  graphic: { elements: graphic }
});
</script>
</body>
</html>
